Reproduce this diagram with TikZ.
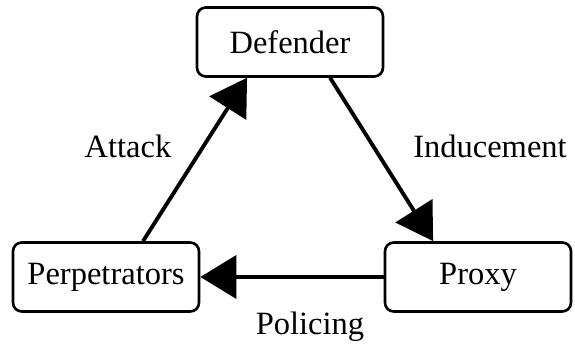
\documentclass[tikz,border=0pt]{standalone}
\usepackage{fontspec}
\setmainfont{Liberation Serif}
\usetikzlibrary{arrows.meta,calc}

\tikzset{
  actor/.style={draw, line width=1.5pt, rounded corners=5pt, minimum width=3.72cm,
    minimum height=1.38cm, font=\fontsize{18.5}{22}\selectfont},
  link/.style={line width=2.2pt, -{Triangle[length=0.72cm, width=0.86cm]}},
  lbl/.style={font=\fontsize{18.5}{22}\selectfont}
}

\begin{document}
\begin{tikzpicture}[scale=.02]
  \useasboundingbox (0,0) rectangle (575,349);
  \node[actor] (def)   at (290,307) {Defender};
  \node[actor] (perp)  at (106,72)  {Perpetrators};
  \node[actor] (proxy) at (478,72)  {Proxy};

  \draw[link] ($(perp.north)+(37,0)$) -- ($(def.south)+(-43,0)$);
  \draw[link] ($(def.south)+(40,0)$) -- ($(proxy.north)+(-45,0)$);
  \draw[link] (proxy.west) -- (perp.east);

  \node[lbl] (attack) at (128,203) {Attack};
  \node[lbl] (induce) at (490,203) {Inducement};
  \node[lbl] (police) at (310,22)  {Policing};
\end{tikzpicture}
\end{document}
